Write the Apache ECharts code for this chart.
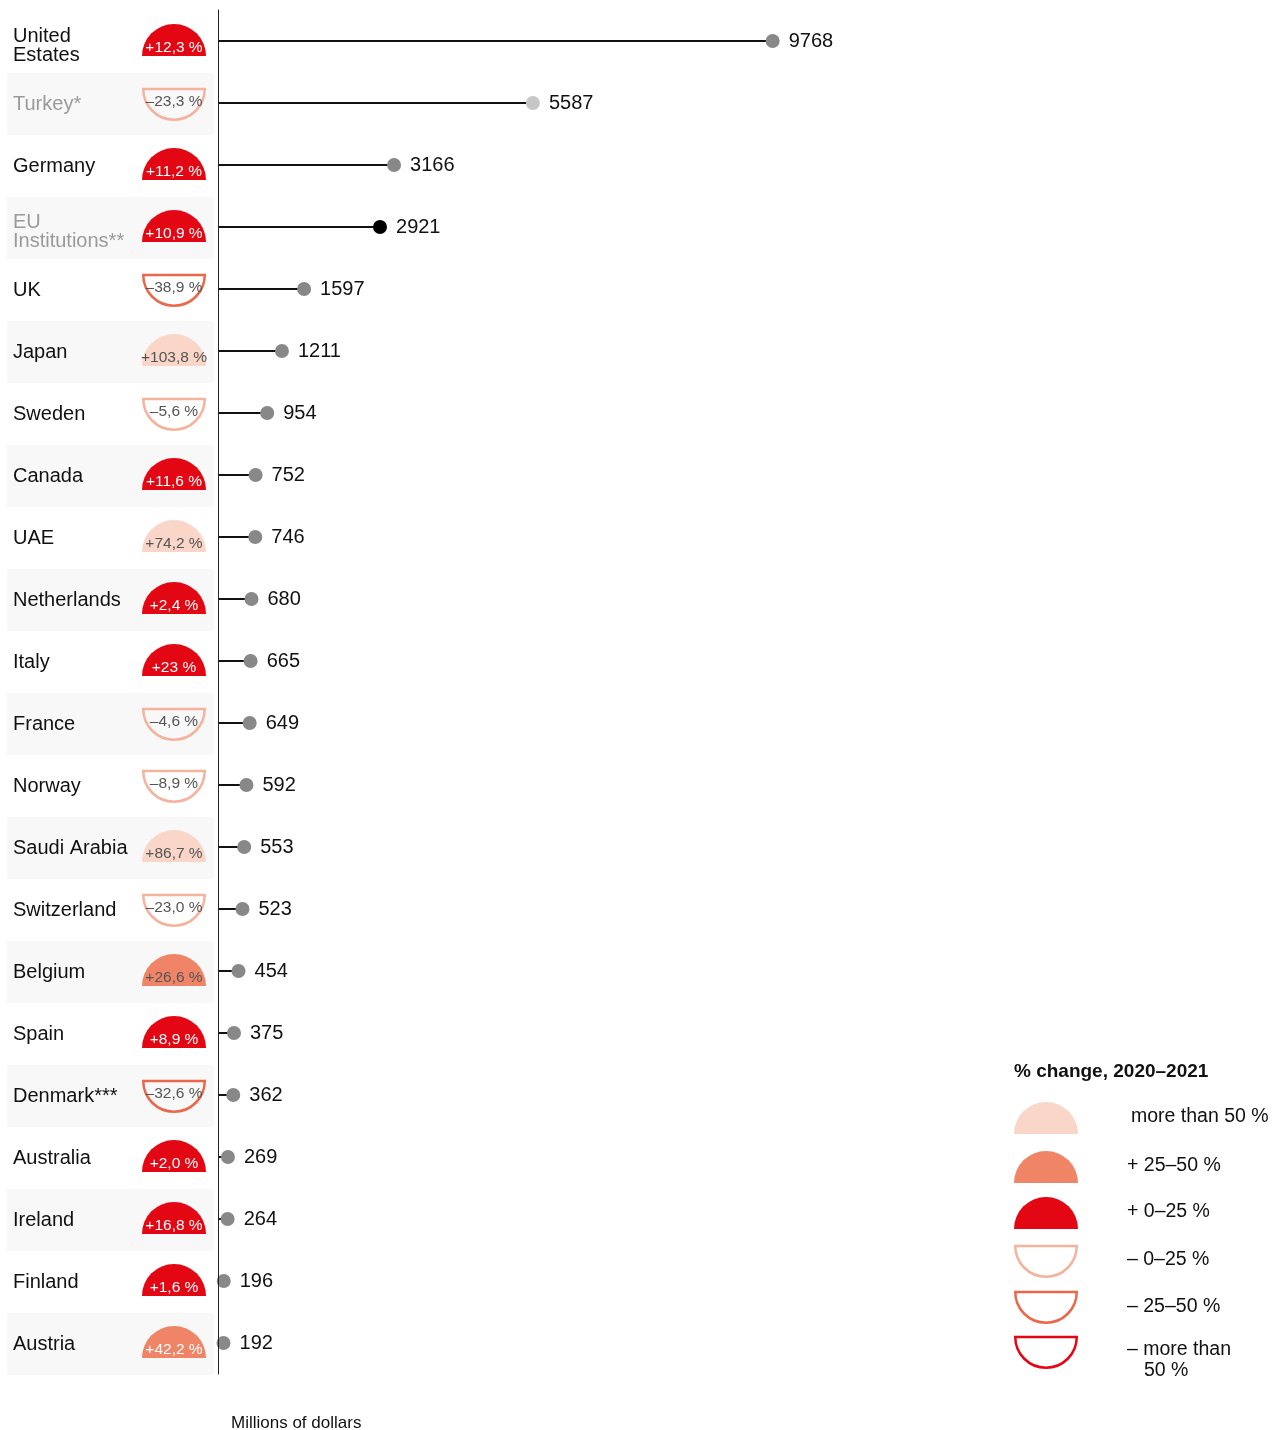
<!DOCTYPE html>
<html><head><meta charset="utf-8">
<script src="https://cdn.jsdelivr.net/npm/echarts@6/dist/echarts.min.js"></script>
<style>html,body{margin:0;padding:0;background:#fff}#c{width:1272px;height:1430px}</style>
</head><body><div id="c"></div>
<script>
// ---- data ----
const countries = ['United\nEstates','Turkey*','Germany','EU\nInstitutions**','UK','Japan','Sweden','Canada','UAE','Netherlands','Italy','France','Norway','Saudi Arabia','Switzerland','Belgium','Spain','Denmark***','Australia','Ireland','Finland','Austria'];
const aid = [9768,5587,3166,2921,1597,1211,954,752,746,680,665,649,592,553,523,454,375,362,269,264,196,192];
const change = [12.3,-23.3,11.2,10.9,-38.9,103.8,-5.6,11.6,74.2,2.4,23,-4.6,-8.9,86.7,-23.0,26.6,8.9,-32.6,2.0,16.8,1.6,42.2];
const changeLabels = ['+12,3 %','–23,3 %','+11,2 %','+10,9 %','–38,9 %','+103,8 %','–5,6 %','+11,6 %','+74,2 %','+2,4 %','+23 %','–4,6 %','–8,9 %','+86,7 %','–23,0 %','+26,6 %','+8,9 %','–32,6 %','+2,0 %','+16,8 %','+1,6 %','+42,2 %'];
const legendTitle = '% change, 2020–2021';
const legendLabels = ['more than 50 %','+ 25–50 %','+ 0–25 %','– 0–25 %','– 25–50 %','– more than\n50 %'];
const axisTitle = 'Millions of dollars';

// ---- styles ----
const FONT = '"Liberation Sans", Arial, sans-serif';
const classColors = ['#f9d6c8','#f08466','#e30613','#f5b29c','#ec6749','#e30613'];
const mutedLabels = ['Turkey*','EU\nInstitutions**'];
const dotColors = {'Turkey*':'#c6c6c6','EU\nInstitutions**':'#000000'};
const darkTextOverride = ['Belgium'];
function cls(c){ if (c>50) return 0; if (c>25) return 1; if (c>=0) return 2; if (c>-25) return 3; if (c>-50) return 4; return 5; }
function textColor(i){
  const k = cls(change[i]);
  if (darkTextOverride.indexOf(countries[i])>=0) return '#555';
  return (k===1||k===2) ? '#ffffff' : '#555555';
}
const X_MIN = 96, X_MAX = 13000, R = 32;

const chart = echarts.init(document.getElementById('c'), null, {renderer:'canvas'});

const legendGraphics = [];
legendGraphics.push({type:'text', style:{text:legendTitle, x:1014, y:1072, font:'bold 19px '+FONT, fill:'#111', textVerticalAlign:'middle', verticalAlign:'middle'}});
const legendFlatY = [1134,1183,1229,1246,1292,1337];
const legendTextY = [1117,1166,1212,1260,1307,1350];
legendLabels.forEach((lab, k) => {
  const cx = 1046;
  if (k < 3) {
    legendGraphics.push({type:'sector', shape:{cx, cy:legendFlatY[k], r:R, startAngle:Math.PI, endAngle:2*Math.PI}, style:{fill:classColors[k]}});
  } else {
    legendGraphics.push({type:'sector', shape:{cx, cy:legendFlatY[k], r:R-1.25, startAngle:0, endAngle:Math.PI}, style:{fill:'none', stroke:classColors[k], lineWidth:2.5}});
  }
  const lines = lab.split('\n');
  lines.forEach((ln, j) => {
    legendGraphics.push({type:'text', style:{text:ln, x:(k===0?1131:1127) + (j>0?17:0), y:legendTextY[k] + j*21, font:'19.5px '+FONT, fill:'#111', textVerticalAlign:'middle', verticalAlign:'middle'}});
  });
});
legendGraphics.push({type:'text', style:{text:axisTitle, x:231, y:1423, font:'17px '+FONT, fill:'#111', textVerticalAlign:'middle', verticalAlign:'middle'}});

const option = {
  animation:false,
  backgroundColor:'#ffffff',
  grid:{left:218, top:10, width:740, height:1364},
  xAxis:{type:'value', min:X_MIN, max:X_MAX, show:false},
  yAxis:{type:'category', data:countries, inverse:true, z:5,
    axisLine:{show:true, lineStyle:{color:'#222', width:1}},
    axisTick:{show:false}, splitLine:{show:false},
    axisLabel:{show:false}},
  graphic:{elements:legendGraphics},
  series:[
    {type:'custom', clip:false, z:1,
     data: aid.map((v,i)=>[v,i]), encode:{x:0, y:1},
     renderItem:(params, api)=>{
       const i = params.dataIndex;
       const c = change[i];
       const k = cls(c);
       const left = params.coordSys.x;
       const cy = api.coord([X_MIN, i])[1];
       const bandH = api.size([0,1])[1];
       const vx = api.coord([api.value(0), i])[0];
       const children = [];
       if (i % 2 === 1) children.push({type:'rect', shape:{x:7, y:cy-bandH/2+1, width:left-11, height:bandH}, style:{fill:'#f8f8f8'}});
       // category label
       const name = countries[i];
       const multi = name.indexOf('\n') >= 0;
       children.push({type:'text', style:{text:name, x:13, y:cy + (multi?5:1), font:'20px '+FONT, lineHeight:19,
         fill: mutedLabels.indexOf(name)>=0 ? '#9a9a9a' : '#111', textAlign:'left', align:'left', textVerticalAlign:'middle', verticalAlign:'middle'}});
       const cx = left - 44;
       if (c >= 0) {
         const fy = cy + 15;
         children.push({type:'sector', shape:{cx, cy:fy, r:R, startAngle:Math.PI, endAngle:2*Math.PI}, style:{fill:classColors[k]}});
         children.push({type:'text', style:{text:changeLabels[i], x:cx, y:fy-8, font:'15.5px '+FONT, fill:textColor(i), textAlign:'center', align:'center', textVerticalAlign:'middle', verticalAlign:'middle'}});
       } else {
         const fy = cy - 14;
         children.push({type:'sector', shape:{cx, cy:fy, r:R-1.25, startAngle:0, endAngle:Math.PI}, style:{fill:'none', stroke:classColors[k], lineWidth:2.5}});
         children.push({type:'text', style:{text:changeLabels[i], x:cx, y:fy+13, font:'15.5px '+FONT, fill:textColor(i), textAlign:'center', align:'center', textVerticalAlign:'middle', verticalAlign:'middle'}});
       }
       children.push({type:'line', shape:{x1:left, y1:cy, x2:vx, y2:cy}, style:{stroke:'#111', lineWidth:2}});
       return {type:'group', children};
     }},
    {type:'scatter', z:3, symbolSize:14,
     data: aid.map((v,i)=>[v,i]),
     itemStyle:{color:(p)=> dotColors[countries[p.dataIndex]] || '#888888', opacity:1},
     label:{show:true, position:'right', distance:9, fontFamily:FONT, fontSize:20, color:'#111',
       formatter:(p)=> String(p.value[0])}}
  ]
};
chart.setOption(option);
</script></body></html>
